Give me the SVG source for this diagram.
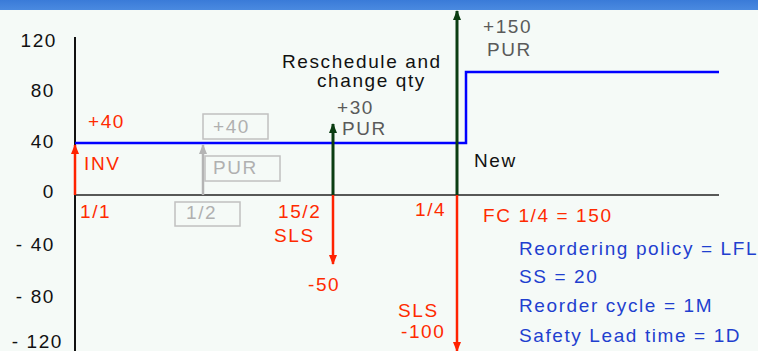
<svg xmlns="http://www.w3.org/2000/svg" width="758" height="351" viewBox="0 0 758 351">
<defs>
<marker id="ah-red" markerUnits="userSpaceOnUse" markerWidth="10" markerHeight="10" viewBox="0 0 10 10" refX="9" refY="5" orient="auto"><path d="M0,1 L10,5 L0,9 Z" fill="#ff2200"/></marker>
<marker id="ah-green" markerUnits="userSpaceOnUse" markerWidth="10" markerHeight="10" viewBox="0 0 10 10" refX="9" refY="5" orient="auto"><path d="M0,1 L10,5 L0,9 Z" fill="#0b3d12"/></marker>
<marker id="ah-gray" markerUnits="userSpaceOnUse" markerWidth="10" markerHeight="10" viewBox="0 0 10 10" refX="9" refY="5" orient="auto"><path d="M0,1 L10,5 L0,9 Z" fill="#b4b4b4"/></marker>
<linearGradient id="band" x1="0" y1="0" x2="0" y2="1"><stop offset="0" stop-color="#3a7bd8"/><stop offset="1" stop-color="#4a8ae0"/></linearGradient>
</defs>
<style>
text{font-family:"Liberation Sans",Arial,sans-serif;font-size:19px;letter-spacing:1.6px}
.ax{fill:#111}
.red{fill:#ff2a00}
.gray{fill:#b0b0b0}
.dgray{fill:#5a5a5a}
.blk{fill:#111}
.blue{fill:#1f3fcf}
.box{fill:none;stroke:#c0c0c0;stroke-width:1.5}
</style>
<rect x="0" y="0" width="758" height="351" fill="#f5faf7"/>
<rect x="0" y="0" width="758" height="10" fill="url(#band)"/>

<g id="axes">
<line x1="75" y1="37" x2="75" y2="351" stroke="#111" stroke-width="2"/>
<line x1="75" y1="195" x2="719" y2="195" stroke="#222" stroke-width="1.6"/>
<g class="ax" text-anchor="end">
<text x="57" y="47">120</text>
<text x="55" y="97">80</text>
<text x="55" y="148">40</text>
<text x="55" y="198">0</text>
<text x="55" y="251">- 40</text>
<text x="55" y="303">- 80</text>
<text x="63" y="348">- 120</text>
</g>
</g>

<g id="stock-line">
<polyline points="75,143 466,143 466,72 719,72" fill="none" stroke="#0000ff" stroke-width="2.5"/>
</g>

<g id="connectors">
<line x1="75" y1="195" x2="75" y2="145" stroke="#ff2200" stroke-width="2.5" marker-end="url(#ah-red)"/>
<line x1="203" y1="195" x2="203" y2="145" stroke="#b4b4b4" stroke-width="2.5" marker-end="url(#ah-gray)"/>
<line x1="333" y1="195" x2="333" y2="124" stroke="#0b3d12" stroke-width="3" marker-end="url(#ah-green)"/>
<line x1="333" y1="195" x2="333" y2="264" stroke="#ff2200" stroke-width="2.5" marker-end="url(#ah-red)"/>
<line x1="457" y1="195" x2="457" y2="11" stroke="#0b3d12" stroke-width="3" marker-end="url(#ah-green)"/>
<line x1="457" y1="195" x2="457" y2="351" stroke="#ff2200" stroke-width="2.5" marker-end="url(#ah-red)"/>
</g>

<g id="node-inv">
<text class="red" x="88" y="128">+40</text>
<text class="red" x="84" y="170">INV</text>
<text class="red" x="80" y="218">1/1</text>
</g>

<g id="node-pur-old">
<rect class="box" x="203" y="114" width="65" height="25"/>
<text class="gray" x="213" y="133">+40</text>
<rect class="box" x="205" y="156" width="75" height="25"/>
<text class="gray" x="213" y="174">PUR</text>
<rect class="box" x="175" y="202" width="65" height="24"/>
<text class="gray" x="186" y="219">1/2</text>
</g>

<g id="node-reschedule">
<text class="blk" x="282" y="68">Reschedule and</text>
<text class="blk" x="317" y="87">change qty</text>
<text class="dgray" x="337" y="114">+30</text>
<text class="dgray" x="342" y="135">PUR</text>
</g>

<g id="node-sls-152">
<text class="red" x="278" y="218">15/2</text>
<text class="red" x="274" y="242">SLS</text>
<text class="red" x="308" y="291">-50</text>
</g>

<g id="node-new">
<text class="dgray" x="483" y="33">+150</text>
<text class="dgray" x="487" y="56">PUR</text>
<text class="blk" x="474" y="167">New</text>
</g>

<g id="node-sls-14">
<text class="red" x="415" y="216">1/4</text>
<text class="red" x="398" y="317">SLS</text>
<text class="red" x="401" y="338">-100</text>
</g>

<g id="node-params">
<text class="red" x="483" y="222">FC 1/4 = 150</text>
<text class="blue" x="519" y="255">Reordering policy = LFL</text>
<text class="blue" x="519" y="283">SS = 20</text>
<text class="blue" x="519" y="312">Reorder cycle = 1M</text>
<text class="blue" x="519" y="342">Safety Lead time = 1D</text>
</g>
</svg>
